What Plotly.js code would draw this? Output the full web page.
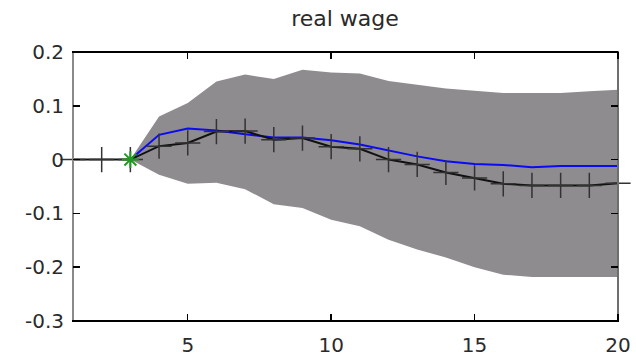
<!DOCTYPE html>
<html>
<head>
<meta charset="utf-8">
<script src="https://cdn.plot.ly/plotly-3.0.1.min.js"></script>
<style>
html,body{margin:0;padding:0;background:#fff;}
#wrap{position:relative;width:636px;height:358px;}
#chart{width:636px;height:358px;}
.ov{position:absolute;pointer-events:none;}
</style>
</head>
<body>
<div id="wrap"><div id="chart"></div></div>
<script>
// Horizons
var periods = [1,2,3,4,5,6,7,8,9,10,11,12,13,14,15,16,17,18,19,20];
// Black response (with + markers)
var responseBlack = [0,0,0,0.025,0.031,0.052,0.053,0.037,0.040,0.024,0.020,0.000,-0.009,-0.024,-0.034,-0.045,-0.048,-0.048,-0.048,-0.044];
// Blue response
var bluePeriods = [3,4,5,6,7,8,9,10,11,12,13,14,15,16,17,18,19,20];
var responseBlue = [0,0.046,0.058,0.054,0.047,0.041,0.041,0.036,0.028,0.017,0.006,-0.003,-0.008,-0.010,-0.014,-0.012,-0.012,-0.012];
// Confidence band
var bandPeriods = [3,4,5,6,7,8,9,10,11,12,13,14,15,16,17,18,19,20];
var bandUpper = [0,0.080,0.105,0.145,0.158,0.150,0.167,0.162,0.160,0.146,0.139,0.132,0.128,0.124,0.124,0.124,0.127,0.130];
var bandLower = [0,-0.028,-0.045,-0.043,-0.055,-0.083,-0.090,-0.112,-0.124,-0.149,-0.167,-0.182,-0.200,-0.214,-0.218,-0.218,-0.218,-0.218];
// Impact point
var starX = [3];
var starY = [0];
// Axes
var xRange = [1, 20];
var yRange = [-0.3, 0.2];
var xTicks = [5,10,15,20];
var yTicks = [-0.3,-0.2,-0.1,0,0.1,0.2];
var yTickText = ['-0.3','-0.2','-0.1','0','0.1','0.2'];

var polyX = bandPeriods.concat(bandPeriods.slice().reverse());
var polyY = bandUpper.concat(bandLower.slice().reverse());

var traces = [
  {x: polyX, y: polyY, type: 'scatter', mode: 'lines', fill: 'toself',
   fillcolor: '#8f8c8f', line: {width: 0, color: '#8f8c8f'}},
  {x: bluePeriods, y: responseBlue, type: 'scatter', mode: 'lines',
   line: {color: '#0a0af5', width: 2}},
  {x: periods, y: responseBlack, type: 'scatter', mode: 'lines+markers', cliponaxis: false,
   line: {color: '#111', width: 2},
   marker: {symbol: 'cross-thin', size: 18, color: '#333', line: {color: '#333', width: 1.5}}},
  {x: starX, y: starY, type: 'scatter', mode: 'markers', cliponaxis: false,
   marker: {symbol: 'asterisk-open', size: 14, color: '#1f9a1f', line: {color: '#1f9a1f', width: 2}}}
];

var layout = {
  width: 636, height: 358,
  margin: {l: 73, r: 18, t: 52, b: 37, pad: 0},
  paper_bgcolor: '#ffffff', plot_bgcolor: '#ffffff',
  showlegend: false,
  font: {family: 'DejaVu Sans', size: 20, color: '#2a2a2a'},
  title: {text: 'real wage', x: 0.5425, font: {family: 'DejaVu Sans', size: 22, color: '#2a2a2a'}},
  xaxis: {range: xRange, tickvals: xTicks, ticktext: xTicks.map(String),
          showline: false, ticks: '', showgrid: false, zeroline: false,
          ticklabelstandoff: 10, tickfont: {size: 20}},
  yaxis: {range: yRange, tickvals: yTicks, ticktext: yTickText,
          showline: false, ticks: '', showgrid: false, zeroline: false,
          ticklabelstandoff: 8, tickfont: {size: 20}}
};

function addDiv(css) {
  var d = document.createElement('div');
  d.className = 'ov';
  d.style.cssText = css;
  document.getElementById('wrap').appendChild(d);
}

Plotly.newPlot('chart', traces, layout, {displayModeBar: false, staticPlot: true}).then(function(gd) {
  var fl = gd._fullLayout, s = fl._size, xa = fl.xaxis, ya = fl.yaxis;
  // axes box (MATLAB style): black top/bottom, grey sides
  addDiv('left:' + (s.l - 1) + 'px;top:' + (s.t - 1) + 'px;width:' + s.w + 'px;height:2px;background:#000;');
  addDiv('left:' + (s.l - 1) + 'px;top:' + (s.t + s.h - 1) + 'px;width:' + (s.w + 2) + 'px;height:2px;background:#000;');
  addDiv('left:' + (s.l - 1) + 'px;top:' + (s.t + 1) + 'px;width:2px;height:' + (s.h - 2) + 'px;background:#8a8a8a;');
  addDiv('left:' + (s.l + s.w - 1) + 'px;top:' + (s.t - 1) + 'px;width:2px;height:' + (s.h) + 'px;background:#6e6e6e;');
  var tl = 7;
  xTicks.forEach(function(v) {
    var px = s.l + xa.l2p(v);
    addDiv('left:' + (px - 0.75) + 'px;top:' + (s.t + s.h - tl) + 'px;width:1.5px;height:' + tl + 'px;background:#000;');
    addDiv('left:' + (px - 0.75) + 'px;top:' + s.t + 'px;width:1.5px;height:' + tl + 'px;background:#000;');
  });
  yTicks.forEach(function(v) {
    var py = s.t + ya.l2p(v);
    addDiv('left:' + s.l + 'px;top:' + (py - 0.75) + 'px;width:' + tl + 'px;height:1.5px;background:#000;');
    addDiv('left:' + (s.l + s.w - tl) + 'px;top:' + (py - 0.75) + 'px;width:' + tl + 'px;height:1.5px;background:#000;');
  });
});
</script>
</body>
</html>
